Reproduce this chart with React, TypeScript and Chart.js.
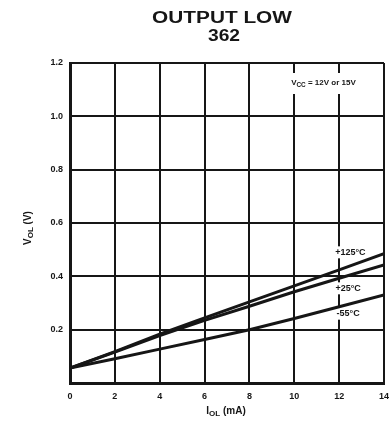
import { useEffect, useRef } from "react";
import { Chart, registerables } from "chart.js";

Chart.register(...registerables);

const currentMA = [0, 2, 4, 6, 8, 10, 12, 14];
const vol125 = [0.056, 0.118, 0.183, 0.244, 0.304, 0.364, 0.424, 0.485];
const vol25 = [0.056, 0.116, 0.178, 0.235, 0.288, 0.342, 0.393, 0.443];
const volMinus55 = [0.056, 0.091, 0.127, 0.163, 0.2, 0.242, 0.286, 0.33];
const seriesLabels = ["+125°C", "+25°C", "-55°C"];
const titleLines = ["OUTPUT LOW", "362"];
const noteMain = "V";
const noteSub = "CC";
const noteRest = " = 12V or 15V";

const INK = "#161616";
const FONT = "'Liberation Sans', Arial, sans-serif";

function drawSub(ctx: CanvasRenderingContext2D, x: number, y: number, main: string, sub: string, rest: string, size: number) {
  ctx.font = `bold ${size}px ${FONT}`;
  const w1 = ctx.measureText(main).width;
  ctx.font = `bold ${size * 0.8}px ${FONT}`;
  const w2 = ctx.measureText(sub).width;
  ctx.font = `bold ${size}px ${FONT}`;
  const w3 = ctx.measureText(rest).width;
  const total = w1 + w2 + w3;
  let cx = x - total / 2;
  ctx.textAlign = "left";
  ctx.textBaseline = "middle";
  ctx.fillText(main, cx, y);
  cx += w1;
  ctx.font = `bold ${size * 0.8}px ${FONT}`;
  ctx.fillText(sub, cx, y + size * 0.3);
  cx += w2;
  ctx.font = `bold ${size}px ${FONT}`;
  ctx.fillText(rest, cx, y);
  return total;
}

const annotations = {
  id: "annotations",
  beforeDatasetsDraw(chart: any) {
    const ctx = chart.ctx as CanvasRenderingContext2D;
    const xs = chart.scales.x;
    const ys = chart.scales.y;
    ctx.save();
    const nx = xs.getPixelForValue(11.3);
    const ny = ys.getPixelForValue(1.125);
    ctx.fillStyle = "#fff";
    ctx.fillRect(nx - 58, ny - 10, 116, 21);
    ctx.fillStyle = INK;
    drawSub(ctx, nx, ny, noteMain, noteSub, noteRest, 8);
    const pos = [
      [12.5, 0.49],
      [12.4, 0.355],
      [12.4, 0.26],
    ];
    ctx.font = `bold 9px ${FONT}`;
    ctx.textAlign = "center";
    ctx.textBaseline = "middle";
    seriesLabels.forEach((t, i) => {
      const px = xs.getPixelForValue(pos[i][0]);
      const py = ys.getPixelForValue(pos[i][1]);
      const w = ctx.measureText(t).width;
      ctx.fillStyle = "#fff";
      ctx.fillRect(px - w / 2 - 1, py - 6, w + 2, 12);
      ctx.fillStyle = INK;
      ctx.fillText(t, px, py);
    });
    ctx.restore();
  },
  afterDraw(chart: any) {
    const ctx = chart.ctx as CanvasRenderingContext2D;
    ctx.save();
    ctx.fillStyle = INK;
    ctx.textAlign = "center";
    ctx.textBaseline = "middle";
    ctx.font = `bold 16px ${FONT}`;
    ctx.save();
    ctx.translate(222, 19);
    ctx.scale(1.3, 1);
    ctx.fillText(titleLines[0], 0, 0);
    ctx.restore();
    ctx.save();
    ctx.translate(224, 37);
    ctx.scale(1.2, 1);
    ctx.fillText(titleLines[1], 0, 0);
    ctx.restore();
    drawSub(ctx, 226, 411, "I", "OL", " (mA)", 10);
    ctx.save();
    ctx.translate(28, 228);
    ctx.rotate(-Math.PI / 2);
    drawSub(ctx, 0, 0, "V", "OL", " (V)", 10);
    ctx.restore();
    ctx.restore();
  },
};

export default function App() {
  const ref = useRef<HTMLCanvasElement>(null);
  useEffect(() => {
    if (!ref.current) return;
    const mk = (vals: number[]) => currentMA.map((x, i) => ({ x, y: vals[i] }));
    const ds = (vals: number[]) => ({
      data: mk(vals),
      borderColor: INK,
      borderWidth: 3,
      pointRadius: 0,
      tension: 0,
      fill: false,
    });
    const chart = new Chart(ref.current, {
      type: "line",
      data: { datasets: [ds(vol125), ds(vol25), ds(volMinus55)] },
      plugins: [annotations],
      options: {
        animation: false,
        responsive: false,
        devicePixelRatio: 1,
        layout: { padding: { top: 63, right: 8, left: 0, bottom: 0 } },
        plugins: { legend: { display: false }, tooltip: { enabled: false }, title: { display: false } },
        scales: {
          x: {
            type: "linear",
            min: 0,
            max: 14,
            afterFit: (s: any) => {
              s.height = 42;
              s.paddingLeft = 0;
              s.paddingRight = 0;
            },
            ticks: {
              stepSize: 2,
              padding: 8,
              color: INK,
              font: { family: FONT, size: 9, weight: "bold" },
              callback: (v: any) => String(v),
            },
            grid: { color: INK, lineWidth: 2, drawTicks: false },
            border: { display: true, color: INK, width: 3 },
          },
          y: {
            type: "linear",
            min: 0,
            max: 1.2,
            afterFit: (s: any) => {
              s.width = 70;
              s.paddingTop = 0;
              s.paddingBottom = 0;
            },
            ticks: {
              stepSize: 0.2,
              padding: 7,
              color: INK,
              font: { family: FONT, size: 9, weight: "bold" },
              callback: (v: any) => (Math.abs(v) < 1e-9 ? "" : Number(v).toFixed(1)),
            },
            grid: { color: INK, lineWidth: 2, drawTicks: false },
            border: { display: true, color: INK, width: 3 },
          },
        },
      },
    });
    return () => chart.destroy();
  }, []);
  return (
    <div style={{ position: "fixed", left: 0, top: 0, width: 392, height: 425, background: "#fff" }}>
      <canvas ref={ref} width={392} height={425} />
    </div>
  );
}
